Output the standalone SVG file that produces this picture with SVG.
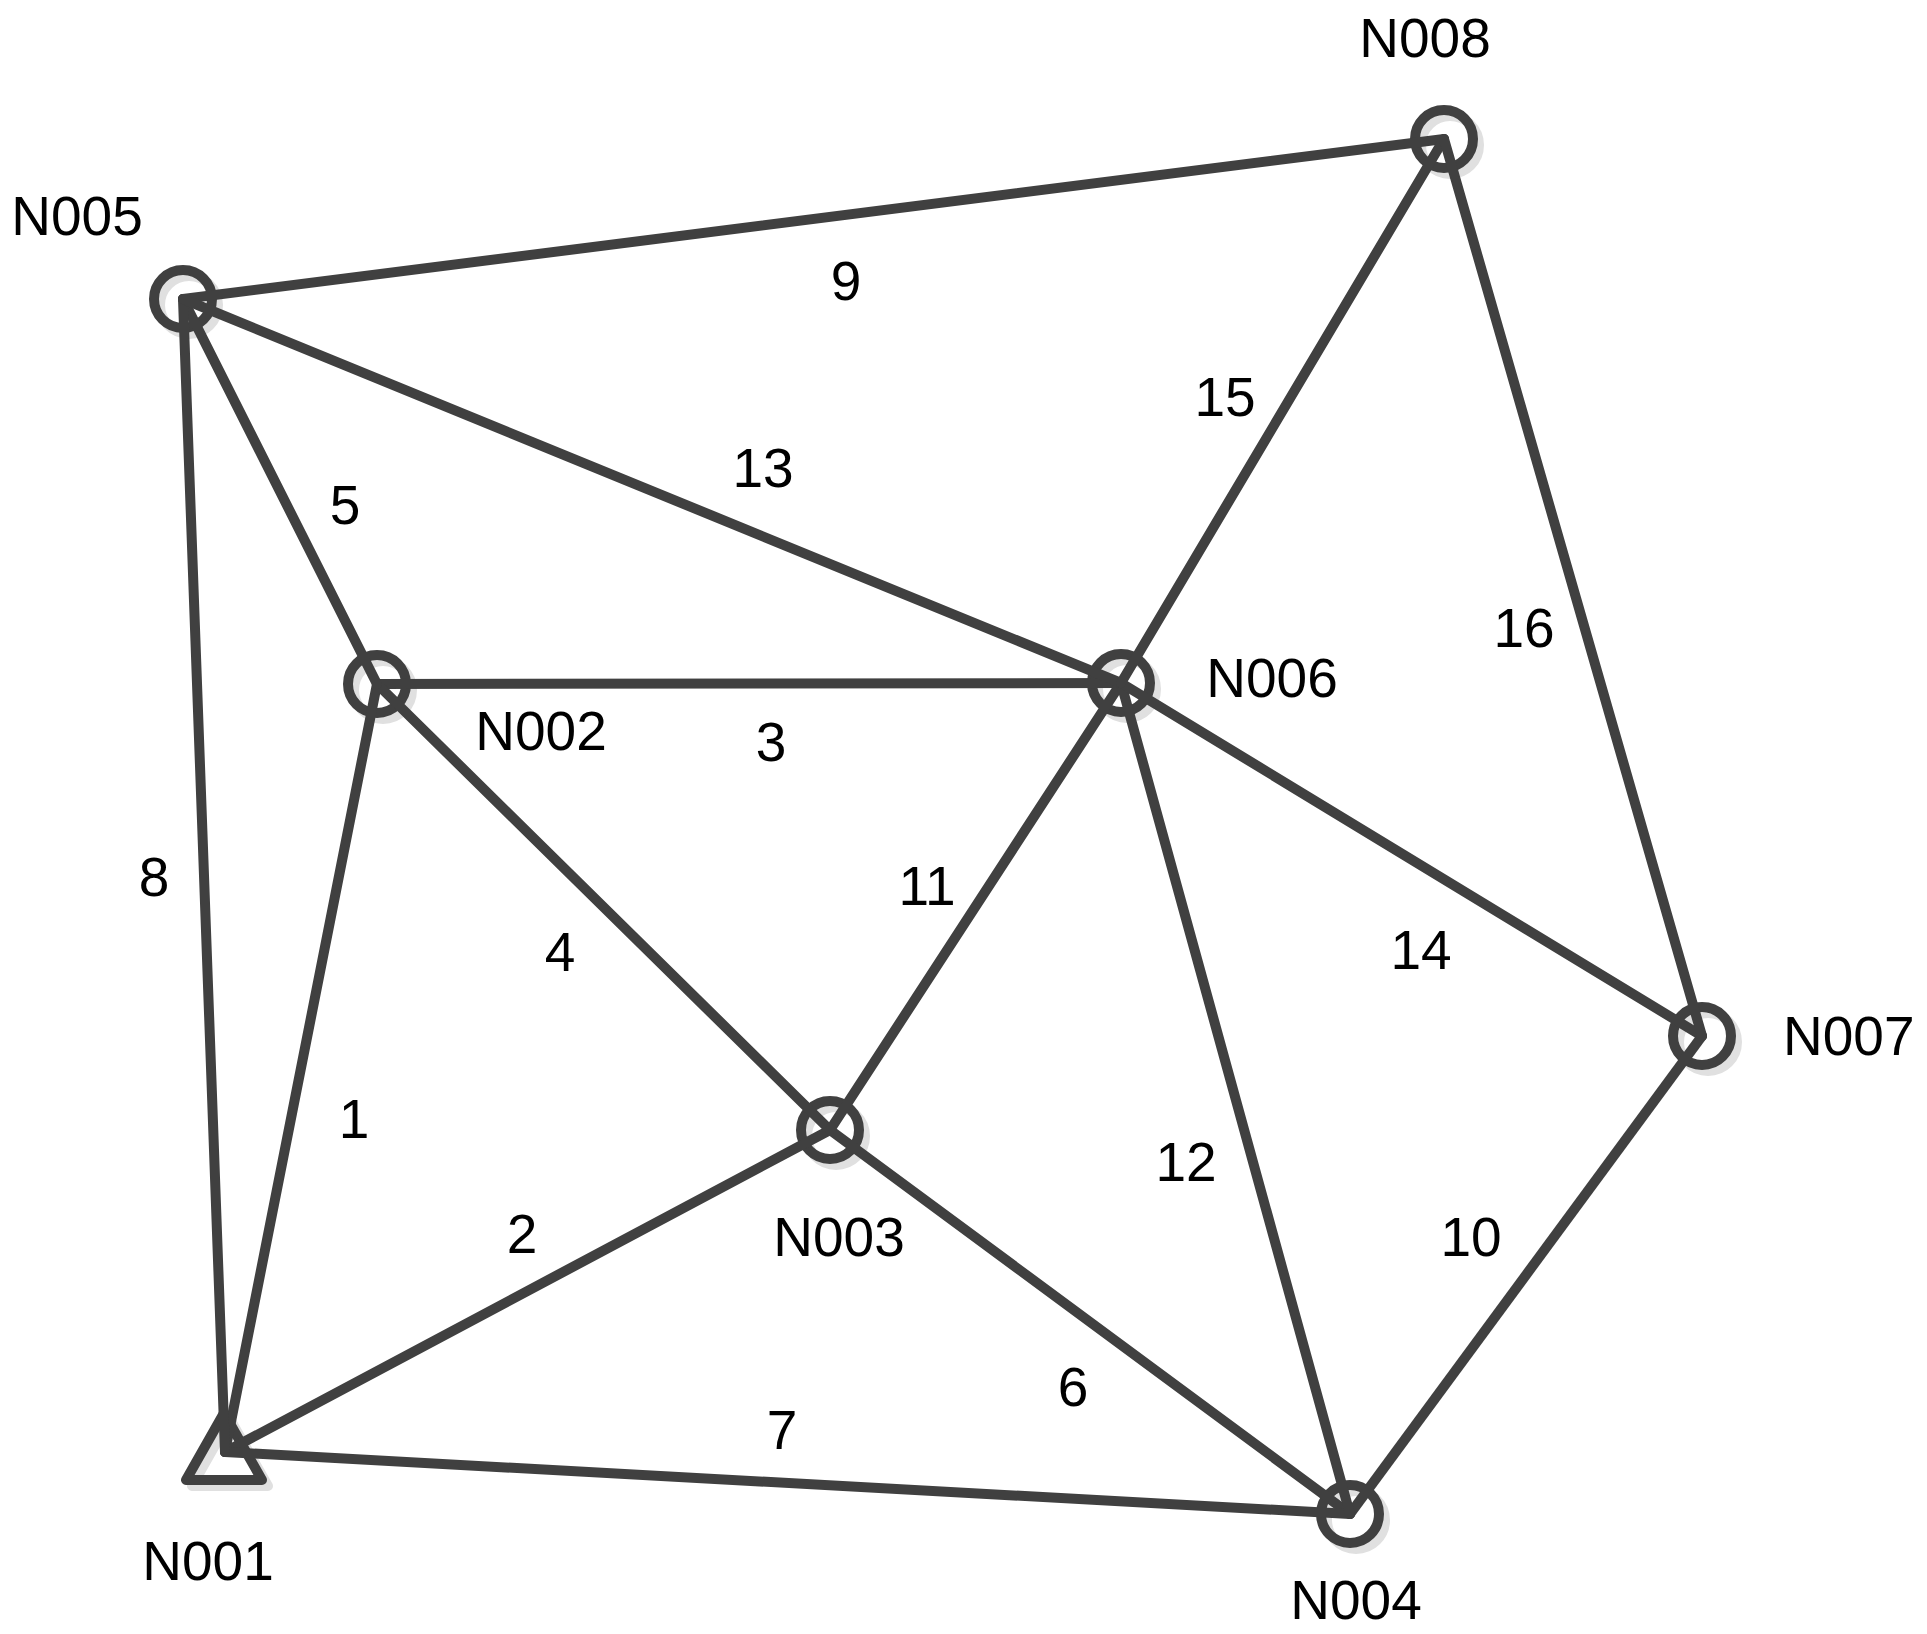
<svg xmlns="http://www.w3.org/2000/svg" width="1927" height="1634" viewBox="0 0 1927 1634">
<style>
.sh{fill:none;stroke:#e0e0e0;stroke-width:10}
.ring{fill:none;stroke:#404040;stroke-width:10}
.ln{stroke:#404040;stroke-width:10;stroke-linecap:round;fill:none}
text{font-family:"Liberation Sans",Arial,sans-serif;font-size:55px;fill:#000}
.m{text-anchor:middle}
</style>
<rect width="1927" height="1634" fill="#fff"/>
<g id="N001"><polygon class="sh" stroke-linejoin="round" points="230,1419 192,1486 268,1486"/><polygon class="ring" stroke-linejoin="round" points="224,1413 186,1480 262,1480"/><text class="m" x="208" y="1580">N001</text></g>
<g id="N002"><circle class="sh" cx="383" cy="690" r="29"/><circle class="ring" cx="377" cy="684" r="29"/><text class="m" x="541" y="750">N002</text></g>
<g id="N003"><circle class="sh" cx="836" cy="1136" r="29"/><circle class="ring" cx="830" cy="1130" r="29"/><text class="m" x="839" y="1256">N003</text></g>
<g id="N004"><circle class="sh" cx="1356" cy="1520" r="29"/><circle class="ring" cx="1350" cy="1514" r="29"/><text class="m" x="1356" y="1619">N004</text></g>
<g id="N005"><circle class="sh" cx="189" cy="305" r="29"/><circle class="ring" cx="183" cy="299" r="29"/><text class="m" x="77" y="235">N005</text></g>
<g id="N006"><circle class="sh" cx="1127" cy="689" r="29"/><circle class="ring" cx="1121" cy="683" r="29"/><text class="m" x="1272" y="697">N006</text></g>
<g id="N007"><circle class="sh" cx="1708" cy="1042" r="29"/><circle class="ring" cx="1702" cy="1036" r="29"/><text x="1783" y="1055">N007</text></g>
<g id="N008"><circle class="sh" cx="1450" cy="145" r="29"/><circle class="ring" cx="1444" cy="139" r="29"/><text class="m" x="1425" y="57">N008</text></g>
<g id="connectors">
<line class="ln" x1="225" y1="1452" x2="377" y2="684"/>
<line class="ln" x1="225" y1="1452" x2="830" y2="1130"/>
<line class="ln" x1="377" y1="684" x2="1121" y2="683"/>
<line class="ln" x1="377" y1="684" x2="830" y2="1130"/>
<line class="ln" x1="183" y1="299" x2="377" y2="684"/>
<line class="ln" x1="830" y1="1130" x2="1350" y2="1514"/>
<line class="ln" x1="225" y1="1452" x2="1350" y2="1514"/>
<line class="ln" x1="183" y1="299" x2="225" y2="1452"/>
<line class="ln" x1="183" y1="299" x2="1444" y2="139"/>
<line class="ln" x1="1350" y1="1514" x2="1702" y2="1036"/>
<line class="ln" x1="830" y1="1130" x2="1121" y2="683"/>
<line class="ln" x1="1121" y1="683" x2="1350" y2="1514"/>
<line class="ln" x1="183" y1="299" x2="1121" y2="683"/>
<line class="ln" x1="1121" y1="683" x2="1702" y2="1036"/>
<line class="ln" x1="1121" y1="683" x2="1444" y2="139"/>
<line class="ln" x1="1444" y1="139" x2="1702" y2="1036"/>
<text class="m" x="354" y="1138">1</text>
<text class="m" x="522" y="1253">2</text>
<text class="m" x="771" y="761">3</text>
<text class="m" x="560" y="971">4</text>
<text class="m" x="345" y="524">5</text>
<text class="m" x="1073" y="1406">6</text>
<text class="m" x="782" y="1449">7</text>
<text class="m" x="154" y="896">8</text>
<text class="m" x="846" y="300">9</text>
<text class="m" x="1471" y="1256">10</text>
<text class="m" x="927" y="905">11</text>
<text class="m" x="1186" y="1181">12</text>
<text class="m" x="763" y="487">13</text>
<text class="m" x="1421" y="969">14</text>
<text class="m" x="1225" y="416">15</text>
<text class="m" x="1524" y="647">16</text>
</g>
</svg>
